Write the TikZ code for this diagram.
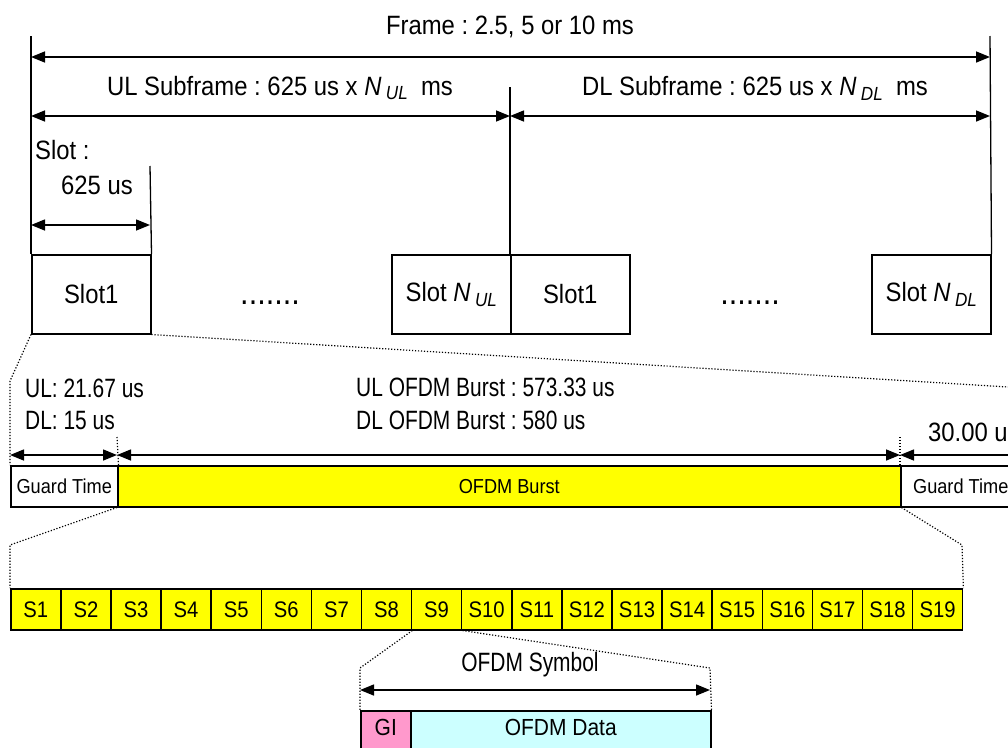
\documentclass[tikz,border=0pt]{standalone}
\usepackage{fontspec}
\setmainfont{Liberation Sans}[FakeStretch=0.9]
\newfontfamily\narrowfont{Liberation Sans}[FakeStretch=0.79]
\usetikzlibrary{arrows.meta}
\definecolor{burst}{HTML}{FFFF00}
\definecolor{gipink}{HTML}{FF99CC}
\definecolor{datacyan}{HTML}{CCFFFF}
\newcommand{\Nsub}[1]{\textit{N}\,\raisebox{-0.35ex}{\fontsize{19}{19}\selectfont\textit{#1}}}
\tikzset{
  every picture/.style={line join=miter, >={Triangle[length=14pt,width=11pt]}},
  lbl/.style={font=\fontsize{26.5}{29}\selectfont, inner sep=0pt},
  nlbl/.style={font=\narrowfont\fontsize{26.5}{29}\selectfont, inner sep=0pt},
  slotbox/.style={draw, line width=1.5pt, anchor=north west, minimum width=119pt, minimum height=79pt, inner sep=0pt, font=\fontsize{26.5}{29}\selectfont},
  fieldbox/.style={draw, line width=1.5pt, anchor=north west, minimum height=41pt, inner sep=0pt, font=\fontsize{20.2}{22}\selectfont},
  symbox/.style={draw, line width=1.5pt, anchor=north west, fill=burst, minimum width=50.1pt, minimum height=41pt, inner sep=0pt, font=\fontsize{22.5}{24}\selectfont},
  partbox/.style={draw, line width=1.5pt, anchor=north west, minimum height=50pt, text depth=16pt, inner sep=0pt, font=\fontsize{23.3}{25}\selectfont},
  dim/.style={<->, line width=1.5pt},
  edge/.style={line width=1.3pt},
  zoomline/.style={line width=1.2pt, dash pattern=on 1.2pt off 1.8pt},
}
\frenchspacing

\begin{document}
\begin{tikzpicture}[x=1pt,y=-1pt]
\useasboundingbox (0,0) rectangle (1008,747);
\clip (0,0) rectangle (1008,747);
% frame and slots
\node[slotbox] (ul1) at (31,254) {Slot1};
\node[slotbox] (ulN) at (391,254) {Slot \Nsub{UL}};
\node[slotbox] (dl1) at (510,254) {Slot1};
\node[slotbox] (dlN) at (871,254) {Slot \Nsub{DL}};
\node[font=\fontsize{34}{36}\selectfont, inner sep=0pt] (dotsul) at (270,303) {.......};
\node[font=\fontsize{34}{36}\selectfont, inner sep=0pt] (dotsdl) at (750,303) {.......};
\coordinate (frtopL) at (31,36);
\coordinate (frtopR) at (990,36);
\coordinate (subtop) at (510,87);
\coordinate (slottop) at (150,166);
\draw[edge] (frtopL) -- (ul1.north west);
\draw[edge] (frtopR) -- (dlN.north east);
\draw[edge] (subtop) -- (dl1.north west);
\draw[edge] (slottop) -- (ul1.north east);
\coordinate (frL) at (31,57);
\coordinate (frR) at (990,57);
\coordinate (subL) at (31,116);
\coordinate (subM) at (510,116);
\coordinate (subR) at (990,116);
\coordinate (slL) at (31,225);
\coordinate (slR) at (150,225);
\draw[dim] (frL) -- (frR);
\draw[dim] (subL) -- (subM);
\draw[dim] (subM) -- (subR);
\draw[dim] (slL) -- (slR);
\node[lbl] (frame) at (510,27) {Frame : 2.5, 5 or 10 ms};
\node[lbl] (ulsub) at (280,88) {UL Subframe : 625 us x \Nsub{UL}\ \ ms};
\node[lbl] (dlsub) at (755,88) {DL Subframe : 625 us x \Nsub{DL}\ \ ms};
\node[lbl, anchor=west] (slot) at (35,150) {Slot :};
\node[lbl] (slotlen) at (97,185) {625 us};
% slot contents
\node[fieldbox, minimum width=107pt] (gt1) at (10,465) {Guard Time};
\node[fieldbox, minimum width=783pt, fill=burst] (burst) at (117,465) {OFDM Burst};
\node[fieldbox, minimum width=120pt] (gt2) at (900,465) {Guard Time};
\node[nlbl, anchor=west] (ulgt) at (25,388) {UL: 21.67 us};
\node[nlbl, anchor=west] (dlgt) at (25,421) {DL: 15 us};
\node[nlbl, anchor=west] (ulburst) at (356,387) {UL OFDM Burst : 573.33 us};
\node[nlbl, anchor=west] (dlburst) at (356,420) {DL OFDM Burst : 580 us};
\node[lbl, anchor=west] (gtlen) at (928,432) {30.00 us};
\coordinate (gtA) at (10,455);
\coordinate (gtB) at (117,455);
\coordinate (gtC) at (900,455);
\coordinate (gtD) at (1030,455);
\draw[dim] (gtA) -- (gtB);
\draw[dim] (gtB) -- (gtC);
\draw[dim] (gtC) -- (gtD);
\coordinate (tickB) at (117,437);
\coordinate (tickC) at (900,437);
\draw[zoomline] (tickB) -- (gt1.north east);
\draw[zoomline] (tickC) -- (gt2.north west);
\coordinate (zoomR) at (1008,387);
\draw[zoomline] (ul1.south west) -- (10,381) -- (gt1.north west);
\draw[zoomline] (ul1.south east) -- (zoomR);
% symbols
\foreach \i in {1,...,19}
  \node[symbox] (s\i) at ({10+(\i-1)*50.1},588) {S\i};
\draw[zoomline] (burst.south west) -- (10,545) -- (s1.north west);
\draw[zoomline] (burst.south east) -- (962,545) -- (s19.north east);
% one symbol
\node[partbox, minimum width=50pt, fill=gipink] (gi) at (360,710) {GI};
\node[partbox, minimum width=300pt, fill=datacyan] (data) at (410,710) {OFDM Data};
\draw[zoomline] (s8.south east) -- (360,668) -- (gi.north west);
\draw[zoomline] (s9.south east) -- (710,668) -- (data.north east);
\coordinate (symL) at (360,690);
\coordinate (symR) at (710,690);
\draw[dim] (symL) -- (symR);
\node[nlbl] (symlen) at (530,665) {OFDM Symbol};
\end{tikzpicture}
\end{document}
